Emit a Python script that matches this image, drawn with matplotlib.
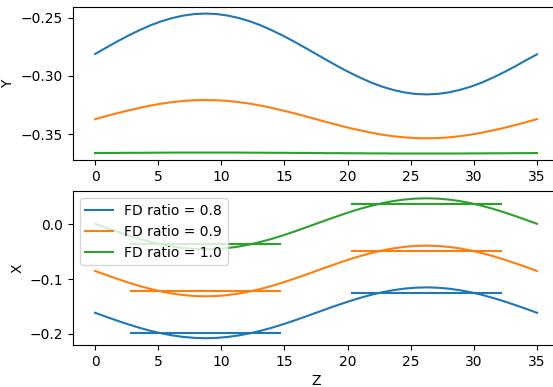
import numpy as np
import matplotlib
matplotlib.use("Agg")
import matplotlib.pyplot as plt

# Z positions where the curves were read (every 0.875)
z = np.linspace(0, 35, 41)

labels = ['FD ratio = 0.8', 'FD ratio = 0.9', 'FD ratio = 1.0']

# top panel: Y
y_08 = [-0.2812, -0.2758, -0.2705, -0.2655, -0.2609, -0.2567, -0.2532, -0.2504, -0.2483, -0.2470, -0.2466,
        -0.2470, -0.2483, -0.2504, -0.2532, -0.2567, -0.2609, -0.2655, -0.2705, -0.2758, -0.2812,
        -0.2866, -0.2919, -0.2969, -0.3015, -0.3057, -0.3092, -0.3120, -0.3141, -0.3154, -0.3158,
        -0.3154, -0.3141, -0.3120, -0.3092, -0.3057, -0.3015, -0.2969, -0.2919, -0.2866, -0.2815]
y_09 = [-0.3370, -0.3344, -0.3319, -0.3296, -0.3274, -0.3254, -0.3237, -0.3224, -0.3214, -0.3208, -0.3206,
        -0.3208, -0.3214, -0.3224, -0.3237, -0.3254, -0.3274, -0.3296, -0.3319, -0.3344, -0.3370,
        -0.3396, -0.3421, -0.3445, -0.3466, -0.3486, -0.3503, -0.3516, -0.3526, -0.3532, -0.3534,
        -0.3532, -0.3526, -0.3516, -0.3503, -0.3486, -0.3466, -0.3445, -0.3421, -0.3396, -0.3370]
y_10 = [-0.3660, -0.3659, -0.3659, -0.3658, -0.3658, -0.3657, -0.3657, -0.3656, -0.3656, -0.3656, -0.3656,
        -0.3656, -0.3656, -0.3656, -0.3657, -0.3657, -0.3658, -0.3658, -0.3659, -0.3659, -0.3660,
        -0.3661, -0.3661, -0.3662, -0.3662, -0.3663, -0.3663, -0.3664, -0.3664, -0.3664, -0.3664,
        -0.3664, -0.3664, -0.3664, -0.3663, -0.3663, -0.3662, -0.3662, -0.3661, -0.3661, -0.3660]

# bottom panel: X
x_08 = [-0.1616, -0.1689, -0.1760, -0.1827, -0.1889, -0.1945, -0.1992, -0.2030, -0.2058, -0.2075, -0.2081,
        -0.2075, -0.2058, -0.2030, -0.1992, -0.1945, -0.1889, -0.1827, -0.1760, -0.1689, -0.1616,
        -0.1543, -0.1472, -0.1405, -0.1343, -0.1287, -0.1240, -0.1202, -0.1174, -0.1157, -0.1151,
        -0.1157, -0.1174, -0.1202, -0.1240, -0.1287, -0.1343, -0.1405, -0.1472, -0.1543, -0.1616]
x_09 = [-0.0851, -0.0924, -0.0994, -0.1062, -0.1124, -0.1179, -0.1226, -0.1264, -0.1292, -0.1309, -0.1315,
        -0.1309, -0.1292, -0.1264, -0.1226, -0.1179, -0.1124, -0.1062, -0.0994, -0.0924, -0.0851,
        -0.0778, -0.0708, -0.0640, -0.0578, -0.0523, -0.0476, -0.0438, -0.0410, -0.0393, -0.0387,
        -0.0393, -0.0410, -0.0438, -0.0476, -0.0523, -0.0578, -0.0640, -0.0708, -0.0778, -0.0851]
x_10 = [0.0012, -0.0061, -0.0132, -0.0200, -0.0263, -0.0318, -0.0366, -0.0404, -0.0432, -0.0449, -0.0455,
        -0.0449, -0.0432, -0.0404, -0.0366, -0.0318, -0.0263, -0.0200, -0.0132, -0.0061, 0.0012,
        0.0085, 0.0156, 0.0224, 0.0287, 0.0342, 0.0390, 0.0428, 0.0456, 0.0473, 0.0479,
        0.0473, 0.0456, 0.0428, 0.0390, 0.0342, 0.0287, 0.0224, 0.0156, 0.0085, 0.0012]

# mean levels (horizontal segments)
seg_start = [2.75, 20.25]
seg_end = [14.75, 32.25]
seg_08 = [-0.1980, -0.1254]
seg_09 = [-0.1218, -0.0485]
seg_10 = [-0.0358, 0.0375]

colors = plt.rcParams['axes.prop_cycle'].by_key()['color']

fig, axes = plt.subplots(2, 1, figsize=(5.53, 3.87), dpi=100)
# the original figure is clipped on the right, so the axes run past the edge
plt.subplots_adjust(left=0.132, right=1.011, top=0.983, bottom=0.108, hspace=0.2)

ax = axes[0]
for i, ys in enumerate([y_08, y_09, y_10]):
    ax.plot(z, ys, color=colors[i])
ax.set_xlabel('Z')
ax.set_ylabel('Y')

ax = axes[1]
for i, (xs, seg) in enumerate(zip([x_08, x_09, x_10], [seg_08, seg_09, seg_10])):
    ax.plot(z, xs, color=colors[i], label=labels[i])
    ax.hlines(seg, seg_start, seg_end, color=colors[i])
ax.set_xlabel('Z')
ax.set_ylabel('X')
ax.legend(loc='upper left')

fig.savefig('out.png')
